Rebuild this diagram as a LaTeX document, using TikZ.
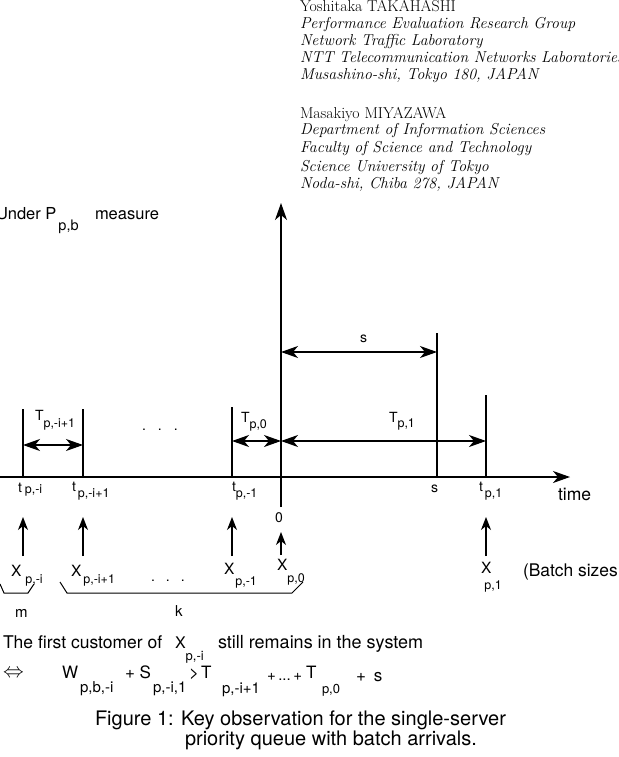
\documentclass[tikz,border=0pt]{standalone}
\usepackage{fontspec}
\newfontfamily\hv{TeX Gyre Heros}
\usetikzlibrary{arrows.meta}
\newcommand\fs[1]{\fontsize{#1}{#1}\selectfont}
\newcommand\sbx[3]{\raisebox{-#1pt}{\hv\fs{#2}#3}}
\begin{document}
\begin{tikzpicture}[x=1pt,y=-1pt,
  every node/.style={inner sep=0pt,outer sep=0pt,anchor=base west},
  ln/.style={line width=1.2pt},
  tipbig/.tip={Stealth[length=17pt,width=12pt,inset=5pt]},
  bigarr/.style={ln,-tipbig},
  dblarr/.style={ln,tipbig-tipbig},
  uparr/.style={ln,-{Stealth[length=13pt,width=10pt,inset=4pt]}},
  brace/.style={line width=1pt},
  auth/.style={font=\fs{15.8}},
  affil/.style={font=\fs{15.8}\itshape},
  lbl/.style={font=\hv\fs{14}},
  xlbl/.style={font=\hv\fs{15.5}},
  txt/.style={font=\hv\fs{17.5}},
  capt/.style={font=\hv\fs{20}}
]
\useasboundingbox (0,0) rectangle (618,757);

% authors
\node[auth]  (a1) at (300,12)  {Yoshitaka TAKAHASHI};
\node[affil] (a2) at (300,28.5){Performance Evaluation Research Group};
\node[affil] (a3) at (300,46)  {Network Traffic Laboratory};
\node[affil] (a4) at (300,63)  {NTT Telecommunication Networks Laboratories};
\node[affil] (a5) at (300,80)  {Musashino-shi, Tokyo 180, JAPAN};
\node[auth]  (b1) at (300,118) {Masakiyo MIYAZAWA};
\node[affil] (b2) at (300,135) {Department of Information Sciences};
\node[affil] (b3) at (300,153) {Faculty of Science and Technology};
\node[affil] (b4) at (300,171) {Science University of Tokyo};
\node[affil] (b5) at (300,188) {Noda-shi, Chiba 278, JAPAN};

% title
\node[font=\hv\fs{16.5}] (under) at (-4,219) {Under P\hspace{2pt}\sbx{11}{14.5}{p,b}};
\node[font=\hv\fs{16.5}] (meas) at (95,219) {measure};

% axes
\coordinate (h0) at (0,477);
\coordinate (h1) at (570,477);
\coordinate (v0) at (281,507);
\coordinate (v1) at (281,203);
\draw[bigarr] (h0) -- (h1);
\draw[bigarr] (v0) -- (v1);

% ticks
\coordinate (ta) at (23,477);  \coordinate (tat) at (23,409);
\coordinate (tb) at (83,477);  \coordinate (tbt) at (83,409);
\coordinate (tc) at (232,477); \coordinate (tct) at (232,407);
\coordinate (ts) at (437,477); \coordinate (tst) at (437,333);
\coordinate (td) at (486,477); \coordinate (tdt) at (486,395);
\draw[ln] (ta) -- (tat);
\draw[ln] (tb) -- (tbt);
\draw[ln] (tc) -- (tct);
\draw[ln] (ts) -- (tst);
\draw[ln] (td) -- (tdt);

% interval arrows
\coordinate (Ta) at (23,445);  \coordinate (Tb) at (83,445);
\coordinate (Tc) at (232,441); \coordinate (T0) at (281,441);
\coordinate (Td) at (486,441);
\coordinate (sa) at (281,352); \coordinate (sb) at (437,352);
\draw[dblarr] (Ta) -- (Tb);
\draw[dblarr] (Tc) -- (T0);
\draw[dblarr] (T0) -- (Td);
\draw[dblarr] (sa) -- (sb);

% interval labels
\node[lbl] (lTa) at (35,420) {T\sbx{7}{12.5}{p,-i+1}};
\node[lbl] (ldots1) at (142,430) {.\hspace{12pt}.\hspace{12pt}.};
\node[lbl] (lT0) at (241,422) {T\sbx{6}{12.5}{p,0}};
\node[lbl] (lT1) at (389,422) {T\sbx{5}{12.5}{p,1}};
\node[lbl] (ls) at (360,342) {s};

% axis labels
\node[lbl] (lta) at (18,492) {t\hspace{3pt}\sbx{1}{12.5}{p,-i}};
\node[lbl] (ltb) at (72,491) {t\hspace{2pt}\sbx{6}{12.5}{p,-i+1}};
\node[lbl] (ltc) at (232,491) {t\sbx{6}{12.5}{p,-1}};
\node[lbl] (lss) at (431,492) {s};
\node[lbl] (lzero) at (275,522) {0};
\node[lbl] (ltd) at (479,491) {t\hspace{2pt}\sbx{6}{12.5}{p,1}};
\node[font=\hv\fs{17.5}] (ltime) at (558,500) {time};

% batch arrows
\coordinate (ua) at (23,556);  \coordinate (uat) at (23,517);
\coordinate (ub) at (83,556);  \coordinate (ubt) at (83,517);
\coordinate (uc) at (232,556); \coordinate (uct) at (232,517);
\coordinate (u0) at (281,555); \coordinate (u0t) at (281,532);
\coordinate (ud) at (486,556); \coordinate (udt) at (486,517);
\draw[uparr] (ua) -- (uat);
\draw[uparr] (ub) -- (ubt);
\draw[uparr] (uc) -- (uct);
\draw[uparr] (u0) -- (u0t);
\draw[uparr] (ud) -- (udt);

% batch labels
\node[xlbl] (Xa) at (11,576) {X\hspace{4pt}\sbx{7}{12.5}{p,-i}};
\node[xlbl] (Xb) at (71,576) {X\hspace{2pt}\sbx{7}{12.5}{p,-i+1}};
\node[lbl] (ldots2) at (151,581) {.\hspace{11pt}.\hspace{11pt}.};
\node[xlbl] (Xc) at (224,574) {X\hspace{1pt}\sbx{11}{12.5}{p,-1}};
\node[xlbl] (Xd) at (277,570) {X\sbx{12}{12.5}{p,0}};
\node[xlbl] (Xe) at (481,573) {X\hspace{-7pt}\sbx{16}{12.5}{p,1}};
\node[font=\hv\fs{17.4}] (batch) at (523,576) {(Batch sizes};

% braces
\draw[brace] (0,584) -- (4,593) -- (28,593) -- (34,584);
\draw[brace] (60,582) -- (67,593) -- (292,593) -- (303,582);
\node[font=\hv\fs{15}] (lm) at (15,617) {m};
\node[font=\hv\fs{15}] (lk) at (175,616) {k};

% statement
\node[txt] (st1) at (3,648) {The first customer of};
\node[font=\hv\fs{16}] (stX) at (175,648) {X\sbx{12}{13}{p,-i}};
\node[font=\hv\fs{18}] (st2) at (218,648) {still remains in the system};

\node[font=\fs{22}] (iff) at (3,677) {$\Leftrightarrow$};
\node[font=\hv\fs{17}] (fW) at (62,678) {W\hspace{2pt}\sbx{14}{15}{p,b,-i}};
\node[font=\hv\fs{17}] (fS) at (125,678) {+ S};
\node[font=\hv\fs{15}] (fSs) at (153,692) {p,-i,1};
\node[font=\hv\fs{17}] (fgt) at (189,678) {>};
\node[font=\hv\fs{17}] (fT1) at (201,678) {T};
\node[font=\hv\fs{15}] (fT1s) at (222,693) {p,-i+1};
\node[font=\hv\fs{15}] (fdots) at (267,680) {+\hspace{2.5pt}...\hspace{2.5pt}+};
\node[font=\hv\fs{17}] (fT2) at (306,678) {T};
\node[font=\hv\fs{13}] (fT2s) at (322,693) {p,0};
\node[font=\hv\fs{17}] (fs) at (356,681) {+\hspace{8pt}s};

% caption
\node[capt] (cap1) at (95,725) {Figure 1: Key observation for the single-server};
\node[capt] (cap2) at (185,745) {priority queue with batch arrivals.};
\end{tikzpicture}
\end{document}
